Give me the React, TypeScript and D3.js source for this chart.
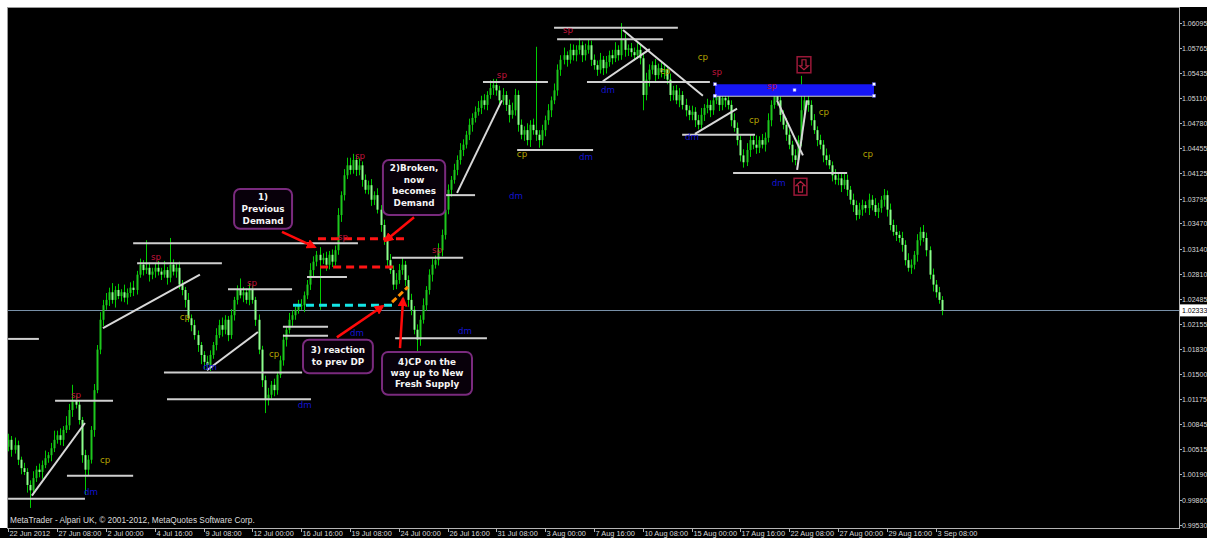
import React from 'react';
import * as d3 from 'd3';

// ---------- DATA (prices in pips above 1.0000, H4 bars) ----------
const firstOpen = 55;
const closes: number[] = [
  64, 51, 57, 38, 27, 22, 5, -2, 14, 25, 22, 31, 40, 44, 53, 64,
  70, 64, 77, 83, 103, 116, 110, 90, 44, 25, 38, 77, 129, 182, 221, 240,
  247, 257, 247, 260, 252, 257, 250, 256, 263, 260, 280, 293, 286, 289, 280, 284,
  289, 284, 280, 286, 276, 293, 284, 289, 267, 260, 247, 223, 214, 201, 188, 175,
  166, 162, 175, 188, 201, 214, 208, 221, 201, 227, 247, 260, 253, 257, 247, 260,
  247, 221, 182, 142, 116, 123, 136, 129, 149, 168, 195, 208, 221, 227, 234, 240,
  240, 253, 267, 286, 297, 306, 299, 302, 293, 306, 297, 312, 358, 384, 410, 423,
  417, 430, 417, 423, 404, 391, 397, 378, 384, 365, 345, 325, 299, 286, 267, 273,
  286, 293, 273, 247, 234, 208, 195, 221, 240, 260, 280, 293, 299, 312, 332, 365,
  391, 404, 417, 430, 443, 450, 463, 476, 485, 493, 498, 508, 502, 515, 524, 528,
  521, 508, 515, 502, 489, 495, 515, 476, 463, 469, 456, 476, 469, 463, 456, 469,
  482, 495, 508, 521, 548, 561, 567, 561, 574, 567, 574, 580, 567, 574, 580, 561,
  554, 548, 561, 550, 558, 567, 563, 574, 567, 587, 574, 576, 571, 567, 574, 563,
  515, 535, 548, 554, 541, 550, 545, 548, 535, 515, 521, 508, 515, 502, 495, 489,
  493, 482, 476, 489, 498, 502, 495, 508, 515, 502, 511, 508, 502, 482, 472, 456,
  436, 427, 443, 456, 450, 446, 456, 450, 459, 482, 502, 515, 508, 489, 476, 463,
  450, 436, 430, 456, 495, 508, 502, 482, 469, 456, 450, 436, 430, 423, 410, 404,
  406, 397, 404, 391, 378, 371, 358, 365, 371, 367, 378, 371, 362, 367, 378, 384,
  365, 345, 336, 332, 328, 319, 299, 289, 293, 306, 325, 336, 328, 312, 280, 267, 257, 247, 233,
];
const upWicks: number[] = [
  8, 5, 10, 6, 4, 7, 5, 6, 9, 5, 8, 6, 10, 4, 7, 12,
  6, 9, 5, 12, 8, 20, 6, 5, 4, 7, 6, 5, 8, 6, 10, 7,
  9, 6, 12, 5, 8, 4, 10, 6, 7, 9, 5, 8, 6, 36, 7, 5,
  6, 9, 5, 12, 4, 35, 7, 5, 8, 6, 4, 9, 5, 7, 6, 4,
  5, 8, 6, 4, 9, 7, 10, 6, 5, 8, 4, 6, 15, 7, 5, 9,
  6, 4, 7, 5, 6, 9, 5, 8, 4, 6, 7, 5, 9, 6, 4, 7,
  8, 5, 6, 9, 7, 5, 10, 6, 8, 5, 7, 6, 9, 5, 8, 10,
  10, 8, 6, 9, 5, 7, 6, 8, 5, 9, 6, 7, 5, 8, 6, 9,
  8, 9, 5, 6, 8, 5, 7, 6, 9, 5, 7, 8, 6, 9, 7, 10,
  7, 5, 8, 6, 9, 7, 5, 8, 6, 7, 9, 6, 8, 5, 10, 8,
  8, 6, 9, 5, 7, 10, 8, 6, 7, 5, 9, 6, 8, 109, 6, 7,
  6, 8, 5, 9, 7, 6, 10, 5, 8, 7, 6, 9, 5, 8, 7, 6,
  7, 6, 9, 5, 8, 6, 7, 10, 6, 22, 8, 5, 7, 6, 9, 7,
  6, 9, 7, 5, 8, 6, 9, 7, 5, 8, 6, 7, 9, 5, 8, 6,
  8, 6, 7, 9, 5, 8, 6, 7, 9, 6, 8, 5, 7, 6, 9, 7,
  6, 8, 9, 7, 6, 12, 5, 8, 7, 9, 6, 8, 7, 5, 6, 9,
  7, 5, 8, 6, 45, 9, 7, 6, 8, 5, 7, 6, 9, 7, 5, 8,
  8, 6, 9, 7, 5, 8, 6, 9, 7, 5, 8, 6, 9, 7, 5, 8,
  6, 8, 7, 9, 5, 8, 6, 9, 7, 5, 8, 6, 9, 7, 5, 8, 6, 7, 5,
];
const loWicks: number[] = [
  6, 9, 5, 7, 8, 4, 10, 23, 6, 5, 7, 9, 4, 6, 8, 5,
  5, 7, 8, 4, 6, 9, 5, 6, 10, 33, 7, 5, 9, 4, 6, 8,
  6, 8, 5, 10, 4, 7, 6, 9, 5, 8, 6, 4, 7, 5, 9, 6,
  8, 5, 7, 4, 9, 6, 5, 8, 6, 7, 10, 5, 8, 6, 9, 12,
  10, 6, 8, 5, 7, 4, 9, 6, 8, 5, 7, 6, 4, 9, 5, 7,
  5, 8, 6, 9, 17, 7, 5, 8, 6, 4, 7, 9, 5, 8, 6, 5,
  6, 9, 5, 7, 8, 6, 65, 5, 8, 6, 7, 5, 6, 9, 7, 5,
  6, 5, 8, 7, 9, 5, 6, 8, 7, 5, 9, 6, 8, 5, 7, 6,
  5, 6, 8, 9, 7, 6, 17, 8, 5, 7, 6, 9, 5, 7, 8, 6,
  6, 9, 5, 7, 6, 8, 5, 7, 9, 6, 5, 8, 6, 7, 5, 9,
  7, 9, 6, 8, 10, 5, 7, 9, 6, 8, 7, 9, 6, 8, 10, 7,
  8, 6, 9, 5, 7, 8, 6, 9, 5, 7, 8, 6, 9, 7, 5, 8,
  6, 8, 5, 9, 7, 6, 8, 5, 7, 6, 9, 8, 6, 7, 5, 8,
  20, 7, 9, 6, 8, 5, 7, 9, 6, 8, 7, 5, 9, 6, 8, 7,
  7, 9, 6, 5, 8, 7, 9, 6, 5, 8, 7, 9, 6, 8, 5, 7,
  8, 7, 5, 9, 6, 8, 7, 5, 9, 6, 8, 5, 7, 9, 6, 8,
  6, 9, 7, 5, 8, 6, 9, 7, 5, 8, 6, 9, 7, 5, 8, 6,
  7, 9, 5, 8, 6, 9, 7, 5, 8, 6, 9, 7, 5, 8, 6, 9,
  9, 7, 5, 8, 6, 9, 7, 5, 8, 6, 9, 7, 5, 8, 6, 9, 7, 5, 6,
];

const timeLabels = [
  '22 Jun 2012', '27 Jun 08:00', '2 Jul 00:00', '4 Jul 16:00', '9 Jul 08:00',
  '12 Jul 00:00', '16 Jul 16:00', '19 Jul 08:00', '24 Jul 00:00', '26 Jul 16:00',
  '31 Jul 08:00', '3 Aug 00:00', '7 Aug 16:00', '10 Aug 08:00', '15 Aug 00:00',
  '17 Aug 16:00', '22 Aug 08:00', '27 Aug 00:00', '29 Aug 16:00', '3 Sep 08:00',
];
const barsPerLabel = 16;
const priceLabels = [
  '1.06095', '1.05765', '1.05435', '1.05110', '1.04780', '1.04455', '1.04125',
  '1.03795', '1.03470', '1.03140', '1.02810', '1.02485', '1.02155', '1.01830',
  '1.01500', '1.01175', '1.00845', '1.00515', '1.00190', '0.99860', '0.99530',
];
const currentPrice = 1.02333;

// horizontal level lines: [fromBar, toBar, pips]
const levels: [number, number, number][] = [
  [40.9, 114.6, 321], [42.2, 70.0, 295], [72.0, 93.0, 261], [90.0, 104.8, 212],
  [90.0, 104.8, 200], [-0.1, 10.0, 196], [51.0, 96.3, 152], [52.0, 99.2, 117],
  [15.3, 34.3, 115], [19.2, 40.9, 17], [-0.1, 25.1, -13], [97.9, 111.0, 277],
  [125.8, 149.1, 302], [126.8, 156.9, 197], [143.2, 153.0, 384], [155.6, 176.9, 532],
  [166.8, 191.7, 443], [178.9, 219.5, 603], [179.9, 214.6, 588], [189.7, 230.0, 532],
  [220.9, 244.8, 463], [237.6, 275.0, 413], [231.0, 283.5, 514],
];
// trend lines: [bar1, pips1, bar2, pips2]
const trendLines: [number, number, number, number][] = [
  [7.7, -9, 25.1, 86], [31.0, 210, 62.8, 280], [65.1, 155, 81.8, 205],
  [147.1, 387, 161.8, 508], [194.9, 533, 210.3, 575], [201.5, 600, 227.7, 514],
  [225.1, 464, 238.9, 497], [252.0, 508, 260.5, 436], [258.6, 417, 261.8, 508],
];
const redDashed: [number, number, number][] = [[101.5, 130.0, 327], [102.2, 127.4, 290]];
const cyanDashed: [number, number, number][] = [[93.3, 126.1, 240]];
const orangeDashed: [number, number, number, number][] = [[125.8, 244, 131.0, 264]];
const arrows: [number, number, number, number][] = [
  [89.7, 336, 100.5, 316], [133.0, 355, 123.5, 324], [107.7, 198, 122.8, 239], [128.4, 184, 129.4, 249],
];
// callouts: [bar1, bar2, pipsTop, pipsBottom]
const calloutBoxes: [number, number, number, number][] = [
  [74.0, 93.0, 392, 340], [122.8, 143.2, 430, 358], [96.6, 119.5, 195, 151], [122.5, 152.0, 179, 123],
];
const calloutTexts: string[][] = [
  ['1)', 'Previous', 'Demand'],
  ['2)Broken,', 'now', 'becomes', 'Demand'],
  ['3) reaction', 'to prev DP'],
  ['4)CP on the', 'way up to New', 'Fresh Supply'],
];
const calloutLineOffsets: number[][] = [
  [8, 20, 31.5], [8, 20, 31.5, 43], [10.7, 22.7], [9.7, 21.3, 32],
];
// sp / cp / dm marks: [bar, pips, text]
const marks: [number, number, string][] = [
  [22.2, 123, 'sp'], [27.1, -4, 'dm'], [31.7, 38, 'cp'], [48.4, 303, 'sp'], [57.9, 225, 'cp'],
  [66.1, 159, 'dm'], [79.9, 269, 'sp'], [87.1, 176, 'cp'], [97.2, 110, 'dm'], [109.7, 329, 'sp'],
  [115.3, 435, 'sp'], [114.3, 204, 'dm'], [140.5, 312, 'sp'], [149.7, 206, 'dm'], [166.4, 383, 'dm'],
  [161.8, 541, 'sp'], [168.4, 438, 'cp'], [189.4, 434, 'dm'], [183.5, 600, 'sp'], [196.6, 521, 'dm'],
  [215.3, 546, 'cp'], [227.7, 565, 'cp'], [232.3, 545, 'sp'], [224.1, 460, 'dm'], [250.4, 527, 'sp'],
  [244.5, 482, 'cp'], [267.4, 493, 'cp'], [281.8, 438, 'cp'], [252.6, 400, 'dm'],
];
const supplyZone: [number, number, number, number] = [231.7, 283.8, 529, 514];
// arrow-signal boxes: [bar1, bar2, pipsTop, pipsBottom, direction]
const signalBoxes: [number, number, number, number, string][] = [
  [258.6, 263.1, 565, 544, 'down'], [257.6, 261.8, 406, 384, 'up'],
];

const markColor: Record<string, string> = { sp: '#c0143c', cp: '#b4a000', dm: '#1414d2' };

export default function App() {
  const W = 1207, H = 538;
  const L = 7, R = 1179, T = 7, B = 528;
  const x = d3.scaleLinear().domain([0, barsPerLabel * (timeLabels.length - 1)]).range([8.4, 935.6]);
  const yPrice = d3.scaleLinear().domain([1.06095, 0.9986]).range([22.7, 499.5]);
  const y = (p: number) => yPrice(1 + p / 10000);
  const axisFont = "'Liberation Sans', Arial, sans-serif";
  const markFont = "'DejaVu Sans', Verdana, sans-serif";

  const candles = closes.map((c, i) => {
    const o = i === 0 ? firstOpen : closes[i - 1];
    const hi = Math.max(o, c) + (upWicks[i] ?? 6);
    const lo = Math.min(o, c) - (loWicks[i] ?? 6);
    const cx = Math.round(x(i));
    const yo = y(o), yc = y(c);
    const top = Math.min(yo, yc);
    const h = Math.max(1, Math.abs(yo - yc));
    const bull = c >= o;
    return (
      <g key={i}>
        <line x1={cx + 0.5} x2={cx + 0.5} y1={y(hi)} y2={y(lo)} stroke="#00cc00" strokeWidth={1} />
        <rect x={cx - 0.5} y={top} width={2} height={h} fill={bull ? '#1ec81e' : '#8cff8c'} />
      </g>
    );
  });

  const yCur = yPrice(currentPrice);

  return (
    <svg width={W} height={H} style={{ position: 'absolute', left: 0, top: 0, display: 'block' }}>
      <defs>
        <marker id="ah" viewBox="0 0 10 10" refX="8" refY="5" markerWidth="4" markerHeight="4" orient="auto">
          <path d="M0,0 L10,5 L0,10 Z" fill="#ff0a0a" />
        </marker>
        <clipPath id="plot"><rect x={L} y={T} width={R - L} height={B - T} /></clipPath>
      </defs>
      <rect x={0} y={0} width={W} height={H} fill="#ffffff" />
      <rect x={L} y={T} width={W - L} height={H - T} fill="#000000" />
      <rect x={0} y={B} width={W} height={H - B} fill="#000000" />

      {/* current price line */}
      <line x1={L} x2={R} y1={Math.round(yCur) + 0.5} y2={Math.round(yCur) + 0.5} stroke="#7890a8" strokeWidth={1} />

      <g clipPath="url(#plot)">
        {candles}

        {levels.map((d, i) => (
          <line key={'lv' + i} x1={x(d[0])} x2={x(d[1])} y1={y(d[2])} y2={y(d[2])} stroke="#cfcfcf" strokeWidth={2} />
        ))}
        {trendLines.map((d, i) => (
          <line key={'tl' + i} x1={x(d[0])} y1={y(d[1])} x2={x(d[2])} y2={y(d[3])} stroke="#d8d8d8" strokeWidth={2} />
        ))}
        {redDashed.map((d, i) => (
          <line key={'rd' + i} x1={x(d[0])} x2={x(d[1])} y1={y(d[2])} y2={y(d[2])} stroke="#ff1414" strokeWidth={3} strokeDasharray="8 5" />
        ))}
        {cyanDashed.map((d, i) => (
          <line key={'cd' + i} x1={x(d[0])} x2={x(d[1])} y1={y(d[2])} y2={y(d[2])} stroke="#14e6e6" strokeWidth={3} strokeDasharray="8 5" />
        ))}
        {orangeDashed.map((d, i) => (
          <line key={'od' + i} x1={x(d[0])} y1={y(d[1])} x2={x(d[2])} y2={y(d[3])} stroke="#ff8c00" strokeWidth={3} strokeDasharray="6 3" />
        ))}

        {/* supply zone */}
        <rect x={x(supplyZone[0])} y={y(supplyZone[2])} width={x(supplyZone[1]) - x(supplyZone[0])} height={y(supplyZone[3]) - y(supplyZone[2])} fill="#1616f5" />
        {[[supplyZone[0], supplyZone[2]], [supplyZone[1], supplyZone[2]], [supplyZone[0], supplyZone[3]], [supplyZone[1], supplyZone[3]], [(supplyZone[0] + supplyZone[1]) / 2, (supplyZone[2] + supplyZone[3]) / 2]].map((p, i) => (
          <rect key={'hd' + i} x={x(p[0]) - 1.5} y={y(p[1]) - 1.5} width={3} height={3} fill="#ffffff" stroke="#6060ff" strokeWidth={0.5} />
        ))}

        {marks.map((m, i) => (
          <text key={'mk' + i} x={x(m[0])} y={y(m[1])} fill={markColor[m[2]]} fontFamily={markFont} fontSize={8.7} textAnchor="middle" dominantBaseline="central">{m[2]}</text>
        ))}

        {signalBoxes.map((s, i) => {
          const x1 = x(s[0]), x2 = x(s[1]), y1 = y(s[2]), y2 = y(s[3]);
          const cx = (x1 + x2) / 2, cy = (y1 + y2) / 2;
          const d = s[4] === 'down'
            ? `M${cx - 2},${y1 + 3} L${cx + 2},${y1 + 3} L${cx + 2},${cy + 1} L${cx + 4.5},${cy + 1} L${cx},${y2 - 3} L${cx - 4.5},${cy + 1} L${cx - 2},${cy + 1} Z`
            : `M${cx - 2},${y2 - 3} L${cx + 2},${y2 - 3} L${cx + 2},${cy - 1} L${cx + 4.5},${cy - 1} L${cx},${y1 + 3} L${cx - 4.5},${cy - 1} L${cx - 2},${cy - 1} Z`;
          return (
            <g key={'sb' + i}>
              <rect x={x1} y={y1} width={x2 - x1} height={y2 - y1} fill="#000" stroke="#9a1838" strokeWidth={1.5} />
              <path d={d} fill="none" stroke="#b0203f" strokeWidth={1.2} />
            </g>
          );
        })}

        {calloutBoxes.map((b, i) => {
          const x1 = x(b[0]), x2 = x(b[1]), y1 = y(b[2]), y2 = y(b[3]);
          return (
            <g key={'cb' + i}>
              <rect x={x1} y={y1} width={x2 - x1} height={y2 - y1} rx={6} fill="#08000a" stroke="#7a2a7e" strokeWidth={2} />
              {calloutTexts[i].map((t, j) => (
                <text key={j} x={(x1 + x2) / 2} y={y1 + calloutLineOffsets[i][j]} fill="#f4f4f4" fontFamily={markFont} fontWeight="bold" fontSize={8.8} textAnchor="middle" dominantBaseline="central">{t}</text>
              ))}
            </g>
          );
        })}

        {arrows.map((a, i) => (
          <line key={'ar' + i} x1={x(a[0])} y1={y(a[1])} x2={x(a[2])} y2={y(a[3])} stroke="#ff0a0a" strokeWidth={2.5} markerEnd="url(#ah)" />
        ))}
      </g>

      {/* frame */}
      <line x1={L + 0.5} x2={L + 0.5} y1={T} y2={B} stroke="#9a9a9a" />
      <line x1={L} x2={R} y1={T + 0.5} y2={T + 0.5} stroke="#9a9a9a" />
      <line x1={R + 0.5} x2={R + 0.5} y1={T} y2={B + 0.5} stroke="#b4b4b4" />
      <line x1={L} x2={R + 1} y1={B + 0.5} y2={B + 0.5} stroke="#b4b4b4" />

      {/* price axis */}
      {priceLabels.map((p, i) => {
        const yy = Math.round(yPrice(+p)) + 0.5;
        return (
          <g key={'pl' + i}>
            <line x1={R} x2={R + 3} y1={yy} y2={yy} stroke="#b4b4b4" />
            <text x={R + 3} y={yy} fill="#d8d8d8" fontFamily={axisFont} fontSize={7} dominantBaseline="central">{p}</text>
          </g>
        );
      })}
      <rect x={R + 1} y={yCur - 6} width={W - R} height={12} fill="#ffffff" />
      <text x={R + 3} y={yCur} fill="#000000" fontFamily={axisFont} fontSize={7} dominantBaseline="central">{currentPrice.toFixed(5)}</text>

      {/* time axis */}
      {timeLabels.map((t, i) => {
        const xx = Math.round(x(i * barsPerLabel)) + 0.5;
        return (
          <g key={'tk' + i}>
            <line x1={xx} x2={xx} y1={B} y2={B + 4} stroke="#b4b4b4" />
            <text x={xx + 1} y={536} fill="#d8d8d8" fontFamily={axisFont} fontSize={7.4}>{t}</text>
          </g>
        );
      })}

      <text x={10} y={523} fill="#dcdcdc" fontFamily={axisFont} fontSize={8.3}>MetaTrader - Alpari UK, © 2001-2012, MetaQuotes Software Corp.</text>
    </svg>
  );
}
